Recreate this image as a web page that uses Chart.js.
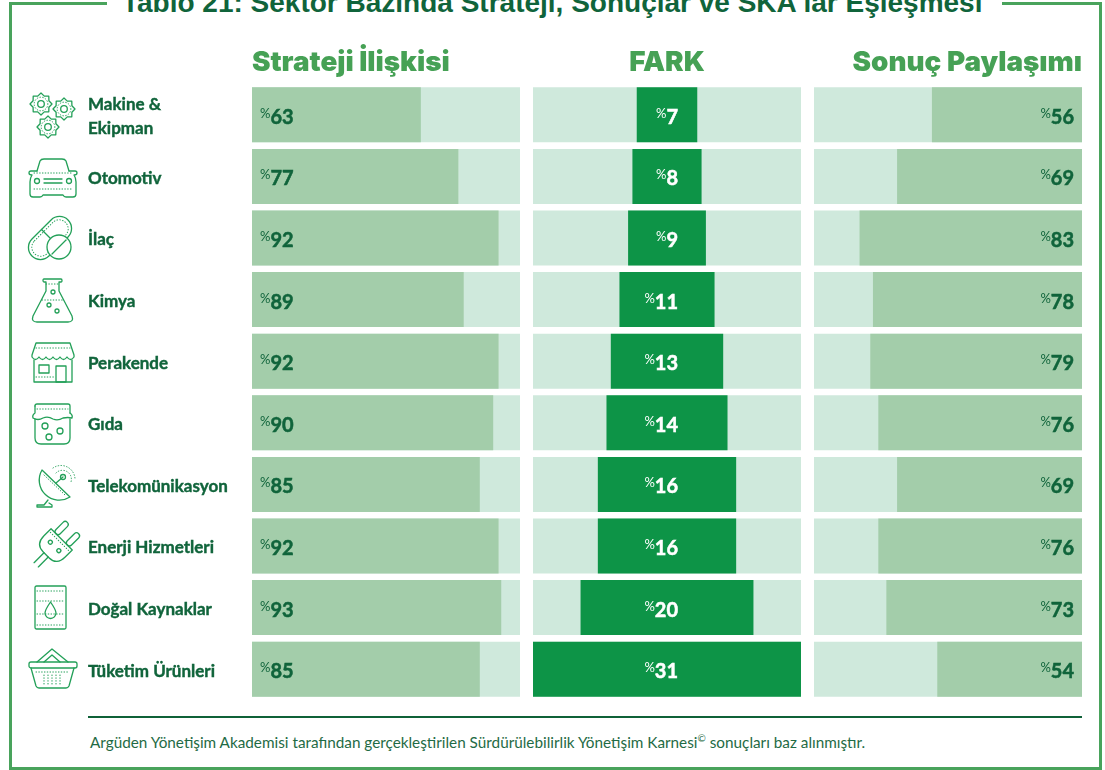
<!DOCTYPE html>
<html lang="tr">
<head>
<meta charset="utf-8">
<title>Tablo 21</title>
<script src="https://cdn.jsdelivr.net/npm/chart.js@4"></script>
<style>
  html, body { margin: 0; padding: 0; background: #fff; overflow: hidden; }
  #page { position: relative; width: 1105px; height: 770px; overflow: hidden; }
  canvas { position: absolute; }
  #icons { position: absolute; left: 0; top: 0; }
  #icons * { fill: none; stroke: #23a058; stroke-width: 1.3; stroke-linecap: round; stroke-linejoin: round; }
  #icons .dot { stroke-width: 1; stroke-dasharray: 0.6 2.2; }
  #icons .knock { fill: #fff; }
  .frame { position: absolute; background: #49a35c; }
  #title { position: absolute; left: 122px; top: -15px; width: 880px; white-space: nowrap;
    font: bold 28px/36px "Liberation Sans", sans-serif; color: #10643b; }
  #rule { position: absolute; left: 88px; top: 716px; width: 994px; height: 2px; background: #0f6138; }
  #note { position: absolute; left: 90px; top: 732px; white-space: nowrap;
    font: 15.3px/20px Lato, sans-serif; color: #1f6b45; }
  #note sup { font-size: 10px; line-height: 0; }
</style>
</head>
<body>
<div id="page">
  <div class="frame" style="left:9px;top:2px;width:98px;height:3px"></div>
  <div class="frame" style="left:1002px;top:2px;width:99px;height:3px"></div>
  <div class="frame" style="left:9px;top:2px;width:3px;height:768px"></div>
  <div class="frame" style="left:1099px;top:2px;width:3px;height:768px"></div>
  <div class="frame" style="left:9px;top:767px;width:1093px;height:3px"></div>
  <div id="title">Tablo 21: Sektör Bazında Strateji, Sonuçlar ve SKA'lar Eşleşmesi</div>

  <svg id="icons" width="1105" height="770"></svg>

  <canvas id="stratejiChart" width="432" height="660" style="left:88px;top:40px"></canvas>
  <canvas id="farkChart" width="268" height="660" style="left:533px;top:40px"></canvas>
  <canvas id="sonucChart" width="268" height="660" style="left:814px;top:40px"></canvas>

  <div id="rule"></div>
  <div id="note">Argüden Yönetişim Akademisi tarafından gerçekleştirilen Sürdürülebilirlik Yönetişim Karnesi<sup>©</sup> sonuçları baz alınmıştır.</div>
</div>

<script>
const sectors = [
  ["Makine &", "Ekipman"], "Otomotiv", "İlaç", "Kimya", "Perakende",
  "Gıda", "Telekomünikasyon", "Enerji Hizmetleri", "Doğal Kaynaklar", "Tüketim Ürünleri"
]
const stratejiValues = [63, 77, 92, 89, 92, 90, 85, 92, 93, 85]
// Kimya bar is printed at about 79 in the source even though its label says 89
const stratejiBars = [63, 77, 92, 79, 92, 90, 85, 92, 93, 85]
const farkValues = [7, 8, 9, 11, 13, 14, 16, 16, 20, 31]
const sonucValues = [56, 69, 83, 78, 79, 76, 69, 76, 73, 54]

const DARK_TEXT = "#10643b"
const HEADER_GREEN = "#46a155"
const TRACK = "#cfe9dc"
const SOFT_BAR = "#a3cdaa"
const STRONG_BAR = "#0d9447"
const BODY_FONT = "Lato, sans-serif"

// draws the small % sign and the number on each row
const valueLabels = {
  id: "valueLabels",
  afterDatasetsDraw(chart, args, opts) {
    const { ctx, chartArea, scales } = chart
    ctx.save()
    ctx.textBaseline = "alphabetic"
    opts.values.forEach((value, i) => {
      const y = scales.y.getPixelForValue(i)
      const num = String(value)
      ctx.font = `bold 20px ${BODY_FONT}`
      const numWidth = ctx.measureText(num).width
      ctx.font = `13px ${BODY_FONT}`
      const pctWidth = ctx.measureText("%").width
      let pctX
      if (opts.side === "left") pctX = chartArea.left + 8
      else if (opts.side === "right") pctX = chartArea.right - 8 - numWidth - pctWidth
      else pctX = (chartArea.left + chartArea.right) / 2 + 11 - numWidth - pctWidth
      ctx.fillStyle = opts.color
      ctx.strokeStyle = opts.color
      ctx.lineWidth = 0.5
      ctx.textAlign = "left"
      ctx.fillText("%", pctX, y + 3)
      ctx.font = `bold 20px ${BODY_FONT}`
      ctx.fillText(num, pctX + pctWidth, y + 9)
      ctx.strokeText(num, pctX + pctWidth, y + 9)
    })
    ctx.restore()
  }
}

// sector names sit a little under the middle of their row
const labelNudge = {
  id: "labelNudge",
  beforeDraw(chart) {
    chart.ctx.save()
    chart.ctx.translate(0, 2)
  },
  beforeDatasetsDraw(chart) {
    chart.ctx.restore()
  }
}

function makePanel(id, cfg) {
  return new Chart(document.getElementById(id), {
    type: "bar",
    plugins: cfg.yAxis ? [valueLabels, labelNudge] : [valueLabels],
    data: {
      labels: sectors,
      datasets: [
        { data: cfg.bars, backgroundColor: cfg.barColor, order: 1, borderWidth: 0 },
        { data: cfg.track, backgroundColor: TRACK, order: 2, borderWidth: 0 }
      ]
    },
    options: {
      indexAxis: "y",
      responsive: false,
      animation: false,
      events: [],
      layout: { padding: 0 },
      datasets: { bar: { grouped: false, categoryPercentage: 1, barPercentage: 0.893 } },
      scales: {
        x: { display: false, min: cfg.min, max: cfg.max, reverse: !!cfg.reverse },
        y: cfg.yAxis || { display: false }
      },
      plugins: {
        legend: { display: false },
        tooltip: { enabled: false },
        title: {
          display: true,
          text: cfg.title,
          align: cfg.titleAlign,
          fullSize: false,
          color: HEADER_GREEN,
          font: { family: "Inter, sans-serif", weight: "900", size: 27.8, lineHeight: 32 / 27.8 },
          padding: { top: cfg.yAxis ? 5 : 7, bottom: cfg.yAxis ? 7 : 5 }
        },
        valueLabels: { values: cfg.labels, side: cfg.side, color: cfg.labelColor }
      }
    }
  })
}

makePanel("stratejiChart", {
  title: "Strateji İlişkisi", titleAlign: "start",
  bars: stratejiBars, track: sectors.map(() => 100), min: 0, max: 100,
  barColor: SOFT_BAR, labels: stratejiValues, side: "left", labelColor: DARK_TEXT,
  yAxis: {
    afterFit(scale) {
      scale.width = 164
      // the two line label otherwise eats into the plot height
      scale.paddingTop = 0
      scale.paddingBottom = 0
    },
    grid: { display: false, drawTicks: false },
    border: { display: false },
    ticks: {
      autoSkip: false, padding: 0, crossAlign: "far", color: DARK_TEXT,
      textStrokeColor: DARK_TEXT, textStrokeWidth: 0.4,
      font: { family: BODY_FONT, weight: "bold", size: 17, lineHeight: 24 / 17 }
    }
  }
})

makePanel("farkChart", {
  title: "FARK", titleAlign: "center",
  bars: farkValues.map(v => [-v / 2, v / 2]), track: sectors.map(() => [-15.5, 15.5]), min: -15.5, max: 15.5,
  barColor: STRONG_BAR, labels: farkValues, side: "center", labelColor: "#ffffff"
})

makePanel("sonucChart", {
  title: "Sonuç Paylaşımı", titleAlign: "end",
  bars: sonucValues, track: sectors.map(() => 100), min: 0, max: 100, reverse: true,
  barColor: SOFT_BAR, labels: sonucValues, side: "right", labelColor: DARK_TEXT
})

// sector pictograms, purely decorative
function gear(cx, cy, r) {
  let d = ""
  for (let i = 0; i < 16; i++) {
    const a = i * Math.PI / 8
    const rad = i % 2 ? r * 0.78 : r
    d += (i ? "L" : "M") + (cx + rad * Math.cos(a)).toFixed(1) + " " + (cy + rad * Math.sin(a)).toFixed(1)
  }
  return `<path d="${d}Z"/><circle class="dot" cx="${cx}" cy="${cy}" r="${r * 0.62}"/><circle cx="${cx}" cy="${cy}" r="${r * 0.3}"/>`
}

const icons = [
  [0, -1, gear(41, 105, 11) + gear(64, 110, 11) + gear(48, 128, 11)],
  [28, 158, `<path d="M9 13L12 3Q13 1 16 1H34Q37 1 38 3L41 13"/>
    <path d="M9 13H3Q1 13 1 15Q1 17 4 17Q2 20 2 24V36Q2 39 5 39H12Q14 39 15 37H35Q36 39 38 39H45Q48 39 48 36V24Q48 20 46 17Q49 17 49 15Q49 13 47 13H41"/>
    <path class="dot" d="M6 15H44M6 31H44"/><circle cx="9" cy="23" r="2.5"/><circle cx="41" cy="23" r="2.5"/><path d="M16 21H34M16 25H34"/>`],
  [29, 217, `<g transform="translate(21 21) rotate(-45)"><rect x="-25.5" y="-12" width="51" height="24" rx="12"/><path d="M0 -12V12"/><rect class="dot" x="-22" y="-9" width="44" height="18" rx="9"/></g>
    <circle class="knock" cx="30" cy="30" r="12"/><path d="M23 37L37 23"/>`],
  [32, 279, `<path d="M14 3H12Q11 3 11 1.500Q11 0 12 0H29Q30 0 30 1.500Q30 3 29 3H27V12L40 37Q42 43 36 43H5Q-1 43 1 37L14 12Z"/>
    <path class="dot" d="M14 5H27M10 21H31"/><circle cx="21" cy="13" r="2"/><circle cx="17" cy="26" r="2"/><circle cx="25" cy="32" r="2"/>`],
  [31, 342, `<path d="M1 13L5 1H39L43 13V15q-3.500 5 -7 0q-3.500 5 -7 0q-3.500 5 -7 0q-3.500 5 -7 0q-3.500 5 -7 0q-3.500 5 -7 0Z"/>
    <path d="M3 18V40H41V18"/><rect x="8" y="23" width="10" height="8"/><rect x="25" y="24" width="10" height="16"/>
    <path class="dot" d="M5 6H39M5 35H23"/>`],
  [32, 404, `<path d="M3 2Q3 0 5 0H36Q38 0 38 2V9"/><path d="M3 2V9Q0 11 1 14Q6 17 11 14Q16 12 21 15Q26 17 31 14Q36 13 40 14Q41 11 38 9"/>
    <path d="M3 15V34Q3 40 9 40H32Q38 40 38 34V15"/><path class="dot" d="M5 5H36"/>
    <circle cx="13" cy="22" r="3"/><circle cx="17" cy="33" r="3"/><circle cx="28" cy="27" r="3"/>`],
  [35, 464, `<path d="M7 6L35 33A20 20 0 0 1 7 6Z"/><path d="M13 36L9 41H2V43H17V41L14 39"/><path d="M21 19L28 13"/><circle cx="28" cy="13" r="2.500"/>
    <path class="dot" d="M21 9A9 9 0 0 1 36 18M18 4A14 14 0 0 1 40 15M9 11L30 31"/>`],
  [33, 526, `<g transform="translate(23 19) rotate(45)"><path d="M-15 -8H15V2Q15 14 4 14H-4Q-15 14 -15 2Z"/>
    <rect x="-11" y="-24" width="6" height="16" rx="3"/><rect x="5" y="-24" width="6" height="16" rx="3"/>
    <path d="M-3 14V28M3 14V28"/><circle cx="-6" cy="2" r="2"/><circle cx="6" cy="2" r="2"/><path class="dot" d="M-13 -5H13"/></g>`],
  [34, 586, `<rect x="1" y="0" width="31" height="43" rx="1.500"/><path class="dot" d="M3 5H30M3 15H30M3 28H30M3 39H30"/>
    <path d="M16.500 16Q11 24 11 27A5.500 5.500 0 0 0 22 27Q22 24 16.500 16Z"/>`],
  [28, 648, `<path d="M9 14L24 1L40 14M16 14L24 7L32 14"/><rect x="1" y="14" width="48" height="6" rx="2"/>
    <path d="M3 20L8 38Q9 40 11 40H38Q40 40 41 38L46 20"/><path class="dot" d="M8 24H41M16 27V37M20 27V37M24 27V37M28 27V37M32 27V37"/>`]
]
document.getElementById("icons").innerHTML = icons
  .map(([x, y, body]) => `<g transform="translate(${x} ${y})">${body}</g>`).join("")
</script>
</body>
</html>
